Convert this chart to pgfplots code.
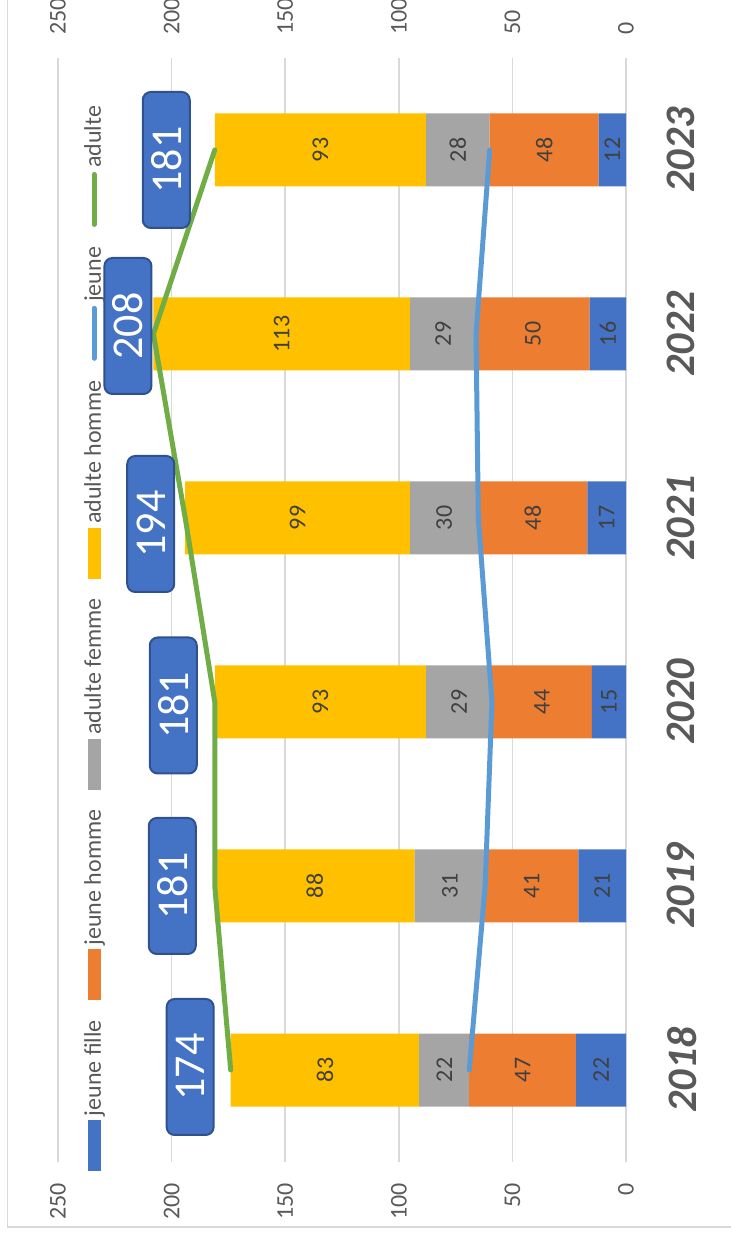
\documentclass[border=0pt]{standalone}
\usepackage{pgfplots}
\pgfplotsset{compat=1.18}
\usepackage{pgfplotstable}
\usepackage{fontspec}
\setmainfont{Carlito}
\definecolor{cBlue}{HTML}{4472C4}
\definecolor{cOrange}{HTML}{ED7D31}
\definecolor{cGray}{HTML}{A5A5A5}
\definecolor{cYellow}{HTML}{FFC000}
\definecolor{cLBlue}{HTML}{5B9BD5}
\definecolor{cGreen}{HTML}{70AD47}
\definecolor{cBorder}{HTML}{2F528F}
\definecolor{cGrid}{HTML}{D9D9D9}
\definecolor{cText}{HTML}{595959}
\definecolor{cLabel}{HTML}{404040}

\pgfplotstableread{
x year jf jh af ah jeune total dx dy
0 2018 22 47 22 83 69 174 1.5 8
1 2019 21 41 31 88 62 181 0 9
2 2020 15 44 29 93 59 181 -1.75 8.5
3 2021 17 48 30 99 65 194 -3 5
4 2022 16 50 29 113 66 208 4 0.5
5 2023 12 48 28 93 60 181 -5 12
}\data

\pgfplotsset{
  base/.style={
    at={(37.5pt,52.5pt)}, anchor=south west,
    scale only axis, width=552pt, height=284pt,
    xmin=-0.5, xmax=5.5, ymin=0, ymax=250,
    axis line style={draw=none},
    major tick length=0pt,
    ytick={0,50,...,250},
    /pgf/number format/assume math mode=true,
    yticklabel style={font=\fontsize{12}{12}\selectfont, text=cText, inner sep=0pt},
  },
}
\begin{document}
\begin{tikzpicture}[rotate=90, transform shape]
\useasboundingbox (0,0) rectangle (618.5pt,365.5pt);
\draw[cGrid, line width=0.75pt] (5pt,-10pt) -- (5pt,361.75pt) -- (700pt,361.75pt);
\begin{axis}[base,
  ybar stacked, bar width=36.5pt,
  ymajorgrids, grid style={cGrid, line width=0.75pt},
  xtick={0,...,5}, xticklabels={2018,2019,2020,2021,2022,2023},
  xticklabel style={font=\fontsize{21}{21}\selectfont\bfseries\itshape, text=cText, anchor=north, inner sep=0pt, yshift=-20.5pt},
  yticklabel style={anchor=east, xshift=-10.5pt},
]
\addplot[fill=cBlue, draw=none] table[x=x, y=jf]{\data};
\addplot[fill=cOrange, draw=none] table[x=x, y=jh]{\data};
\addplot[fill=cGray, draw=none] table[x=x, y=af]{\data};
\addplot[fill=cYellow, draw=none] table[x=x, y=ah]{\data};
\end{axis}
\begin{axis}[base,
  xtick=\empty,
  yticklabel pos=right,
  yticklabel style={anchor=west, xshift=11.5pt},
  legend columns=6,
  legend cell align=left,
  legend style={at={(0.476,0.9366)}, anchor=center, draw=none, fill=none,
    font=\fontsize{12}{12}\selectfont, text=cText,
    /tikz/every odd column/.append style={column sep=0pt},
    /tikz/every even column/.append style={column sep=8pt}},
]
\addlegendimage{legend image code/.code={\fill[cBlue] (0pt,-3pt) rectangle (25pt,3pt);}}
\addlegendimage{legend image code/.code={\fill[cOrange] (0pt,-3pt) rectangle (25pt,3pt);}}
\addlegendimage{legend image code/.code={\fill[cGray] (0pt,-3pt) rectangle (25pt,3pt);}}
\addlegendimage{legend image code/.code={\fill[cYellow] (0pt,-3pt) rectangle (25pt,3pt);}}
\addplot[cLBlue, line width=2.5pt, line join=round, line cap=round, mark=none,
  legend image code/.code={\draw[cLBlue, line width=2.5pt, line cap=round] (1.25pt,0pt) -- (26.25pt,0pt);}]
  table[x=x, y=jeune]{\data};
\addplot[cGreen, line width=2.5pt, line join=round, line cap=round, mark=none,
  legend image code/.code={\draw[cGreen, line width=2.5pt, line cap=round] (1.25pt,0pt) -- (26.25pt,0pt);},
  nodes near coords,
  visualization depends on={\thisrow{dx} \as \myDX},
  visualization depends on={\thisrow{dy} \as \myDY},
  every node near coord/.append style={fill=cBlue, draw=cBorder, line width=1pt, rounded corners=4pt,
    text=white, font=\fontsize{22}{22}\selectfont, minimum width=68pt, minimum height=23.5pt,
    inner sep=0pt, anchor=south, xshift={\myDX*1pt}, yshift={\myDY*1pt}}]
  table[x=x, y=total]{\data};
\legend{jeune fille, jeune homme, adulte femme, adulte homme, jeune, adulte}
% data labels: value shown at the middle of its bar segment
\addplot[forget plot, draw=none, mark=none, nodes near coords, point meta=explicit symbolic,
  every node near coord/.append style={font=\fontsize{12}{12}\selectfont, text=cLabel, anchor=center, inner sep=0pt}]
  coordinates {
  (0,11)[22] (0,45.5)[47] (0,80)[22] (0,132.5)[83]
  (1,10.5)[21] (1,41.5)[41] (1,77.5)[31] (1,137)[88]
  (2,7.5)[15] (2,37)[44] (2,73.5)[29] (2,134.5)[93]
  (3,8.5)[17] (3,41)[48] (3,80)[30] (3,144.5)[99]
  (4,8)[16] (4,41)[50] (4,80.5)[29] (4,151.5)[113]
  (5,6)[12] (5,36)[48] (5,74)[28] (5,134.5)[93]
  };
\end{axis}
\end{tikzpicture}
\end{document}
